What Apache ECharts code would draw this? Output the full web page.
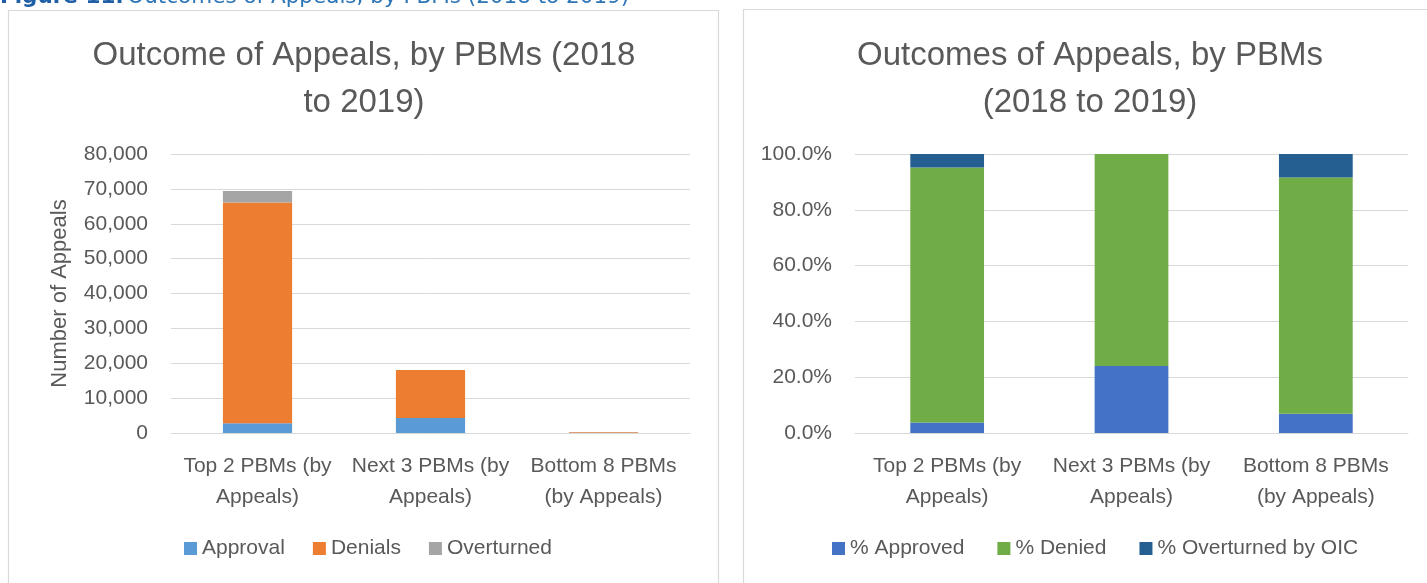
<!DOCTYPE html>
<html>
<head>
<meta charset="utf-8">
<script src="https://cdn.jsdelivr.net/npm/echarts@6/dist/echarts.min.js"></script>
<style>
  html, body { margin: 0; padding: 0; background: #fff; }
  #chart { width: 1427px; height: 583px; }
</style>
</head>
<body>
<div id="chart"></div>
<script>
// data
var categories = ['Top 2 PBMs (by\nAppeals)', 'Next 3 PBMs (by\nAppeals)', 'Bottom 8 PBMs\n(by Appeals)'];

var countNames = ['Approval', 'Denials', 'Overturned'];
var approval = [2800, 4300, 20];
var denials = [63300, 13800, 220];
var overturned = [3300, 0, 22];

var pctNames = ['% Approved', '% Denied', '% Overturned by OIC'];
var pctApproved = [3.8, 24.0, 6.9];
var pctDenied = [91.4, 76.0, 84.7];
var pctOverturned = [4.8, 0, 8.4];

var countTicks = { min: 0, max: 80000, interval: 10000 };
var pctTicks = { min: 0, max: 100, interval: 20 };

var font = 'Liberation Sans';
var grey = '#595959';
var lineGrey = '#d9d9d9';

var chart = echarts.init(document.getElementById('chart'));

function xAxis(idx) {
  return {
    type: 'category',
    gridIndex: idx,
    data: categories,
    axisTick: { show: false },
    axisLine: { lineStyle: { color: lineGrey } },
    axisLabel: { interval: 0, color: grey, fontSize: 21, fontFamily: font, lineHeight: 31, margin: 18 }
  };
}

function bar(name, data, color, axis, stack) {
  return {
    name: name,
    type: 'bar',
    stack: stack,
    xAxisIndex: axis,
    yAxisIndex: axis,
    barWidth: '40%',
    data: data,
    itemStyle: { color: color }
  };
}

var option = {
  animation: false,
  textStyle: { fontFamily: font },
  graphic: [
    { type: 'rect', shape: { x: 8.5, y: 10.5, width: 710, height: 600 },
      style: { fill: 'none', stroke: lineGrey, lineWidth: 1.2 } },
    { type: 'rect', shape: { x: 743.5, y: 9.5, width: 720, height: 600 },
      style: { fill: 'none', stroke: lineGrey, lineWidth: 1.2 } },
    { type: 'text', left: 0, top: -14,
      style: {
        text: '{b|Figure 11:} {n|Outcomes of Appeals, by PBMs (2018 to 2019)}',
        rich: {
          b: { fontFamily: 'DejaVu Sans', fontSize: 21.5, fontWeight: 'bold', fill: '#1f5fa6' },
          n: { fontFamily: 'DejaVu Sans', fontSize: 21.5, fill: '#2e75b6' }
        }
      } }
  ],
  title: [
    { text: 'Outcome of Appeals, by PBMs (2018\nto 2019)', left: 364, top: 32, textAlign: 'center', padding: 0,
      textStyle: { fontSize: 33, fontWeight: 'normal', color: grey, lineHeight: 47, fontFamily: font } },
    { text: 'Outcomes of Appeals, by PBMs\n(2018 to 2019)', left: 1090, top: 32, textAlign: 'center', padding: 0,
      textStyle: { fontSize: 33, fontWeight: 'normal', color: grey, lineHeight: 47, fontFamily: font } }
  ],
  legend: [
    { data: countNames, left: 179, top: 533, icon: 'rect', itemWidth: 13, itemHeight: 13, itemGap: 28,
      textStyle: { color: grey, fontSize: 21, fontFamily: font } },
    { data: pctNames, left: 827, top: 533, icon: 'rect', itemWidth: 13, itemHeight: 13, itemGap: 33,
      textStyle: { color: grey, fontSize: 21, fontFamily: font } }
  ],
  grid: [
    { left: 171, right: 737, top: 154, bottom: 150 },
    { left: 855, right: 19, top: 154, bottom: 150 }
  ],
  xAxis: [xAxis(0), xAxis(1)],
  yAxis: [
    {
      type: 'value', gridIndex: 0,
      min: countTicks.min, max: countTicks.max, interval: countTicks.interval,
      name: 'Number of Appeals', nameLocation: 'middle', nameGap: 100, nameRotate: 90,
      nameTextStyle: { color: grey, fontSize: 22, fontFamily: font },
      axisLine: { show: false }, axisTick: { show: false },
      splitLine: { lineStyle: { color: lineGrey } },
      axisLabel: { color: grey, fontSize: 21, fontFamily: font, margin: 23,
        formatter: function (v) { return v.toLocaleString('en-US'); } }
    },
    {
      type: 'value', gridIndex: 1,
      min: pctTicks.min, max: pctTicks.max, interval: pctTicks.interval,
      axisLine: { show: false }, axisTick: { show: false },
      splitLine: { lineStyle: { color: lineGrey } },
      axisLabel: { color: grey, fontSize: 21, fontFamily: font, margin: 23,
        formatter: function (v) { return v.toFixed(1) + '%'; } }
    }
  ],
  series: [
    bar(countNames[0], approval, '#5b9bd5', 0, 'count'),
    bar(countNames[1], denials, '#ed7d31', 0, 'count'),
    bar(countNames[2], overturned, '#a5a5a5', 0, 'count'),
    bar(pctNames[0], pctApproved, '#4472c4', 1, 'pct'),
    bar(pctNames[1], pctDenied, '#70ad47', 1, 'pct'),
    bar(pctNames[2], pctOverturned, '#255e91', 1, 'pct')
  ]
};

chart.setOption(option);
</script>
</body>
</html>
